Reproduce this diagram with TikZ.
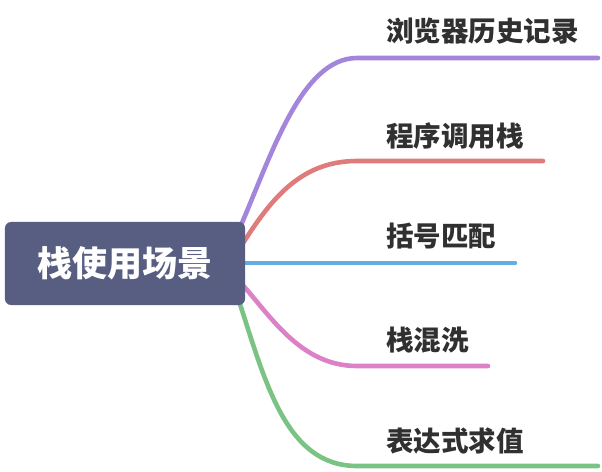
\documentclass[tikz,border=0pt]{standalone}
\usepackage{fontspec}
\newfontfamily\cjk{Noto Sans CJK SC}
\begin{document}
\begin{tikzpicture}[x=1bp, y=-1bp,
  root/.style={rectangle, rounded corners=6bp, fill=rootblue, text=white,
    minimum width=240bp, minimum height=83bp, inner sep=0pt,
    font=\cjk\bfseries\fontsize{35bp}{40bp}\selectfont},
  leaf/.style={anchor=west, inner sep=0pt, text=leafgray,
    font=\cjk\bfseries\fontsize{27.5bp}{32bp}\selectfont},
  branch/.style={line width=4.6bp, line cap=round}]
  \definecolor{rootblue}{HTML}{575E81}
  \definecolor{leafgray}{HTML}{303030}
  \definecolor{bpurple}{HTML}{A386DC}
  \definecolor{bred}{HTML}{E07B7B}
  \definecolor{bblue}{HTML}{60AEE2}
  \definecolor{bpink}{HTML}{DC80C8}
  \definecolor{bgreen}{HTML}{7AC384}
  \useasboundingbox (0,0) rectangle (602,472);
  % 分支起点 (在根节点后面)
  \coordinate (s1) at (238,232); \coordinate (s2) at (240,248);
  \coordinate (s3) at (240,263); \coordinate (s4) at (240,282);
  \coordinate (s5) at (238,298);
  % 弯线终点, 横线终点
  \coordinate (c1) at (357,58);  \coordinate (e1) at (598,58);
  \coordinate (c2) at (357,161); \coordinate (e2) at (543,161);
  \coordinate (e3) at (515,263);
  \coordinate (c4) at (357,366); \coordinate (e4) at (488,366);
  \coordinate (c5) at (357,466); \coordinate (e5) at (598,466);
  \draw[branch, bpurple] (s1) .. controls (270,160) and (300,58) .. (c1) -- (e1);
  \draw[branch, bred] (s2) .. controls (270,200) and (300,161) .. (c2) -- (e2);
  \draw[branch, bblue] (s3) -- (e3);
  \draw[branch, bpink] (s4) .. controls (270,315) and (300,366) .. (c4) -- (e4);
  \draw[branch, bgreen] (s5) .. controls (265,380) and (285,466) .. (c5) -- (e5);
  \node[root] (root) at (125,263.5) {栈使用场景};
  \node[leaf] (l1) at (386,31) {浏览器历史记录};
  \node[leaf] (l2) at (386,136) {程序调用栈};
  \node[leaf] (l3) at (386,236) {括号匹配};
  \node[leaf] (l4) at (386,340) {栈混洗};
  \node[leaf] (l5) at (386,441) {表达式求值};
\end{tikzpicture}
\end{document}
